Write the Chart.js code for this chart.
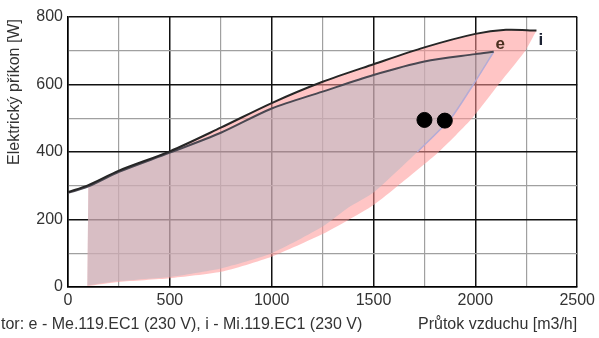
<!DOCTYPE html>
<html>
<head>
<meta charset="utf-8">
<script src="https://cdn.jsdelivr.net/npm/chart.js@4.4.1/dist/chart.umd.min.js"></script>
<style>
  html, body { margin: 0; padding: 0; background: #fff; }
  #wrap { width: 599px; height: 338px; position: relative; }
</style>
</head>
<body>
<div id="wrap"><canvas id="c" width="599" height="338"></canvas></div>
<script>
// ---- data ----
const xTickValues = [0, 500, 1000, 1500, 2000, 2500];
const yTickValues = [0, 200, 400, 600, 800];

// upper characteristic curves (air flow m3/h -> power W)
const iCurveX = [0, 100, 250, 500, 750, 1000, 1250, 1500, 1750, 2000, 2150, 2300];
const iCurveY = [281, 302, 345, 402, 472, 545, 608, 660, 710, 750, 762, 760];
const eCurveX = [0, 100, 250, 500, 750, 1000, 1250, 1500, 1750, 2000, 2090];
const eCurveY = [279, 298, 341, 398, 457, 529, 579, 628, 668, 690, 697];

// lower boundaries of the operating areas
const iLowerX = [95, 250, 500, 750, 1000, 1250, 1375, 1500, 1620, 1820, 1984, 2114, 2245, 2300];
const iLowerY = [3, 15, 26, 45, 90, 157, 198, 243, 300, 400, 500, 600, 700, 760];
const eLowerX = [95, 250, 500, 750, 1000, 1250, 1375, 1500, 1715, 1880, 1990, 2090];
const eLowerY = [5, 18, 30, 55, 100, 179, 235, 280, 400, 500, 600, 697];

// working points
const dotX = [1750, 1850];
const dotY = [495, 493];

// curve labels
const curveLabels = ['e', 'i'];
const curveLabelX = [2122, 2322];
const curveLabelY = [718, 732];

const yTitle = 'Elektrický příkon [W]';
const xTitle = 'Průtok vzduchu [m3/h]';
const footnote = 'tor: e - Me.119.EC1 (230 V), i - Mi.119.EC1 (230 V)';

// ---- build datasets ----
const pts = (xs, ys) => xs.map((x, k) => ({ x: x, y: ys[k] }));
function regionPolygon(upX, upY, loX, loY) {
  const top = pts(upX, upY).filter(p => p.x >= loX[0]);
  const bottom = pts(loX, loY).reverse();
  return top.concat(bottom);
}

const iRegion = regionPolygon(iCurveX, iCurveY, iLowerX, iLowerY);
const eRegion = regionPolygon(eCurveX, eCurveY, eLowerX, eLowerY);
const eEdge = pts(eLowerX, eLowerY).filter(p => p.x >= 1700);

const FONT = '"Liberation Sans", Arial, sans-serif';

const textPlugin = {
  id: 'texts',
  afterDraw(chart) {
    const ctx = chart.ctx;
    const xs = chart.scales.x, ys = chart.scales.y;
    ctx.save();
    ctx.fillStyle = '#333';
    ctx.font = '16px ' + FONT;
    // y title
    ctx.save();
    ctx.translate(15, 92);
    ctx.rotate(-Math.PI / 2);
    ctx.textAlign = 'center';
    ctx.textBaseline = 'middle';
    ctx.fillText(yTitle, 0, 0);
    ctx.restore();
    // x title
    ctx.textAlign = 'right';
    ctx.textBaseline = 'alphabetic';
    ctx.fillText(xTitle, xs.right, 329);
    // footnote
    ctx.textAlign = 'left';
    ctx.fillText(footnote, 1, 329);
    // curve labels
    ctx.font = 'bold 17px ' + FONT;
    ctx.textAlign = 'center';
    ctx.textBaseline = 'middle';
    const labelColors = ['#4a3020', '#1c2233'];
    curveLabels.forEach((t, k) => {
      ctx.fillStyle = labelColors[k];
      ctx.fillText(t, xs.getPixelForValue(curveLabelX[k]), ys.getPixelForValue(curveLabelY[k]));
    });
    ctx.restore();
  }
};

new Chart(document.getElementById('c'), {
  type: 'line',
  data: {
    datasets: [
      { data: pts(dotX, dotY), showLine: false, pointRadius: 7.5, pointHoverRadius: 7.5,
        pointBackgroundColor: '#000', pointBorderColor: '#000', order: 0 },
      { data: pts(iCurveX, iCurveY), borderColor: '#262626', borderWidth: 2, pointRadius: 0,
        tension: 0.3, fill: false, order: 1 },
      { data: pts(eCurveX, eCurveY), borderColor: '#4a4852', borderWidth: 2, pointRadius: 0,
        tension: 0.3, fill: false, order: 2 },
      { data: eEdge, borderColor: 'rgba(175,170,215,0.9)', borderWidth: 1.5, pointRadius: 0,
        tension: 0.2, fill: false, order: 3 },
      { data: eRegion, borderWidth: 0, borderColor: 'rgba(0,0,0,0)', pointRadius: 0, tension: 0.2,
        fill: 'shape', backgroundColor: 'rgba(177,183,195,0.5)', order: 4 },
      { data: iRegion, borderWidth: 0, borderColor: 'rgba(0,0,0,0)', pointRadius: 0, tension: 0.2,
        fill: 'shape', backgroundColor: 'rgba(255,150,150,0.55)', order: 5 }
    ]
  },
  options: {
    responsive: false,
    animation: false,
    events: [],
    layout: { padding: { top: 17, right: 19, left: 0, bottom: 0 } },
    plugins: { legend: { display: false }, tooltip: { enabled: false } },
    scales: {
      x: {
        type: 'linear', min: 0, max: 2500,
        afterFit(s) { s.height = 51; },
        border: { color: '#000', width: 1.5 },
        grid: {
          drawTicks: false,
          color: c => (xTickValues.includes(c.tick.value) ? '#111' : '#a0a0a0'),
          lineWidth: c => (xTickValues.includes(c.tick.value) ? 1.5 : 1.2)
        },
        ticks: {
          stepSize: 250, autoSkip: false, maxRotation: 0, padding: 4,
          color: '#333', font: { family: FONT, size: 16 },
          callback: v => (xTickValues.includes(v) ? String(v) : '')
        }
      },
      y: {
        type: 'linear', min: 0, max: 800,
        afterFit(s) { s.width = 68; },
        border: { color: '#000', width: 1.5 },
        grid: {
          drawTicks: false,
          color: c => (yTickValues.includes(c.tick.value) ? '#111' : '#a0a0a0'),
          lineWidth: c => (yTickValues.includes(c.tick.value) ? 1.5 : 1.2)
        },
        ticks: {
          stepSize: 100, autoSkip: false, padding: 5,
          color: '#333', font: { family: FONT, size: 16 },
          callback: v => (yTickValues.includes(v) ? String(v) : '')
        }
      }
    }
  },
  plugins: [textPlugin]
});
</script>
</body>
</html>
